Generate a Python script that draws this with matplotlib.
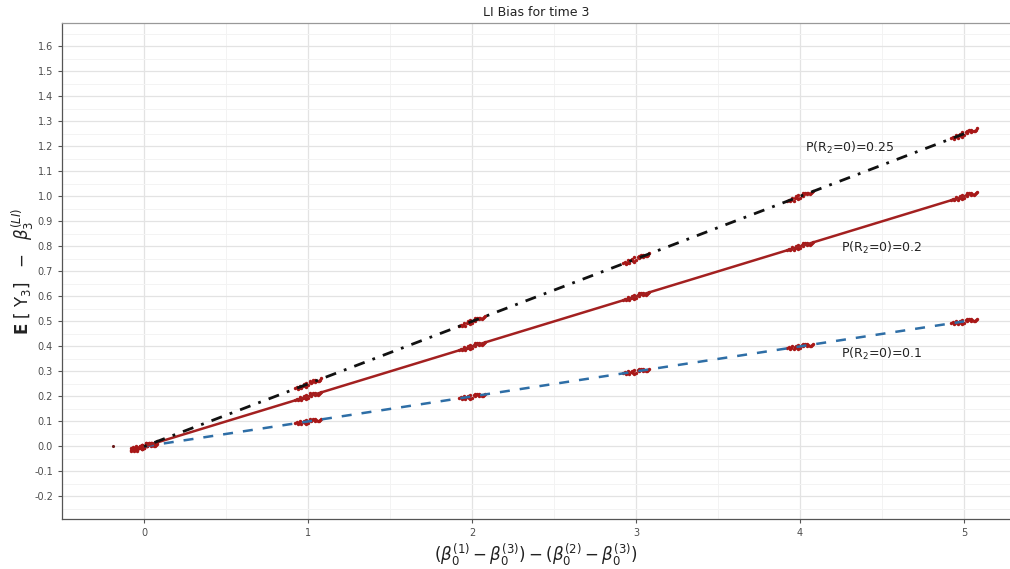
import matplotlib.pyplot as plt
import numpy as np

# integer shift values on the x axis
shift = [0, 1, 2, 3, 4, 5]
# bias per missingness probability
bias_p10 = [0.0, 0.1, 0.2, 0.3, 0.4, 0.5]
bias_p20 = [0.0, 0.2, 0.4, 0.6, 0.8, 1.0]
bias_p25 = [0.0, 0.25, 0.5, 0.75, 1.0, 1.25]
# small hand-picked jitter offsets for the simulated points around each shift
jit_x = [-0.08, -0.06, -0.05, -0.03, -0.02, -0.01, 0.0, 0.01, 0.02, 0.03, 0.05, 0.06, 0.08, -0.04, 0.04, 0.07,
	-0.07, -0.015, 0.015, 0.045, -0.055, 0.025, -0.025, 0.065]
jit_y = [0.002, -0.004, 0.006, 0.001, -0.003, 0.008, -0.006, 0.004, -0.002, 0.007, 0.000, -0.005, 0.003, -0.007, 0.005, -0.001,
	0.004, -0.008, 0.009, -0.003, -0.001, 0.003, 0.006, -0.004]
outlier = (-0.19, 0.0)

fig = plt.figure( figsize=( 10.1, 5.69 ), dpi=100 )
ax = fig.add_axes( [ 0.0614, 0.0879, 0.9386, 0.8717 ] )

ax.set_xlim( -0.43, 5.28 )
ax.set_ylim( -0.29, 1.693 )
yt = np.round( np.arange( -0.2, 1.61, 0.1 ), 1 )
ax.set_xticks( shift )
ax.set_yticks( yt )
ax.set_yticklabels( [ "%.1f" % v for v in yt ] )
ax.set_xticks( np.arange( -0.5, 5.3, 1.0 ), minor=True )
ax.set_yticks( np.arange( -0.25, 1.69, 0.1 ), minor=True )
ax.grid( which="major", color="#e3e3e3", linewidth=0.9 )
ax.grid( which="minor", color="#f3f3f3", linewidth=0.7 )
ax.set_axisbelow( True )
ax.tick_params( which="major", length=3, color="#555555", labelsize=7, labelcolor="#4d4d4d" )
ax.tick_params( which="minor", length=0 )

ax.spines[ "right" ].set_visible( False )
ax.spines[ "top" ].set_color( "#999999" )
ax.spines[ "left" ].set_color( "#555555" )
ax.spines[ "bottom" ].set_color( "#555555" )
for s in ax.spines.values():
	s.set_linewidth( 0.9 )

# jittered simulation points, scattered along each line's slope
for ys in [ bias_p10, bias_p20, bias_p25 ]:
	slope = ys[1]
	px = []
	py = []
	for x, y in zip( shift, ys ):
		for dx, dy in zip( jit_x, jit_y ):
			px.append( x + dx )
			py.append( y + dy + slope * dx )
	ax.scatter( px, py, s=6, color="#a81818", linewidths=0, zorder=3 )
ax.scatter( [ outlier[0] ], [ outlier[1] ], s=5, color="#6a1a1a", linewidths=0, zorder=3 )

ax.plot( shift, bias_p10, color="#2e6ea6", linestyle=( 0, ( 4, 4 ) ), linewidth=1.8, zorder=4 )
ax.plot( shift, bias_p20, color="#a32020", linestyle="-", linewidth=1.8, zorder=4 )
ax.plot( shift, bias_p25, color="#111111", linestyle=( 0, ( 1, 3, 4, 3 ) ), linewidth=2.0, zorder=4 )

ax.text( 4.03, 1.195, "P(R$_2$=0)=0.25", fontsize=9, ha="left", va="center", color="#222222" )
ax.text( 4.25, 0.795, "P(R$_2$=0)=0.2", fontsize=9, ha="left", va="center", color="#222222" )
ax.text( 4.25, 0.37, "P(R$_2$=0)=0.1", fontsize=9, ha="left", va="center", color="#222222" )

ax.set_title( "LI Bias for time 3", fontsize=9, color="#222222", pad=5 )
ax.set_xlabel( r"$(\beta_0^{(1)}-\beta_0^{(3)})-(\beta_0^{(2)}-\beta_0^{(3)})$", fontsize=12, labelpad=2, color="#222222" )
ax.set_ylabel( r"$\mathbf{E}\ [\ \mathrm{Y}_3]\ \ -\ \ \beta_3^{(LI)}$", fontsize=12, labelpad=-1, color="#222222" )

fig.savefig( "out.png", dpi=100 )
